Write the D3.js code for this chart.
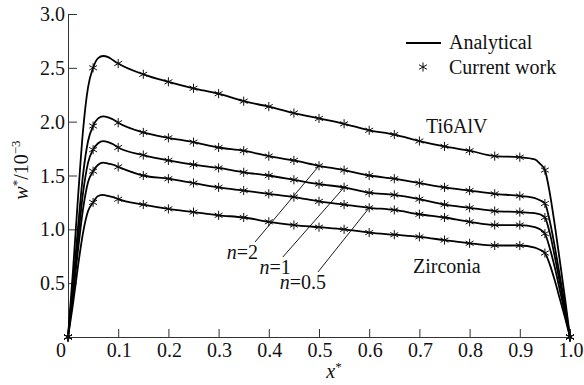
<html>
<head>
<script src="https://d3js.org/d3.v7.min.js"></script>
<style>
body { margin: 0; background: white; }
svg text { font-family: "Liberation Serif", "DejaVu Serif", serif; font-size: 20px; fill: #111; }
</style>
</head>
<body>
<script>
// x positions of the markers (Current work)
var markX = [0,0.05,0.1,0.15,0.2,0.25,0.3,0.35,0.4,0.45,0.5,0.55,0.6,0.65,0.7,0.75,0.8,0.85,0.9,0.95,1.0];

// marker values, one list per material
var tiMarks   = [0,2.50,2.54,2.44,2.37,2.31,2.26,2.19,2.14,2.08,2.03,1.98,1.92,1.88,1.82,1.77,1.73,1.68,1.67,1.55,0];
var n2Marks   = [0,1.96,1.99,1.90,1.85,1.81,1.76,1.73,1.68,1.64,1.59,1.55,1.50,1.47,1.43,1.39,1.36,1.33,1.31,1.24,0];
var n1Marks   = [0,1.74,1.76,1.69,1.64,1.60,1.57,1.53,1.50,1.46,1.42,1.39,1.34,1.32,1.28,1.23,1.20,1.17,1.16,1.11,0];
var n05Marks  = [0,1.54,1.58,1.50,1.47,1.43,1.39,1.36,1.33,1.30,1.26,1.23,1.20,1.18,1.14,1.11,1.07,1.04,1.04,0.96,0];
var zrMarks   = [0,1.25,1.28,1.23,1.19,1.16,1.13,1.11,1.07,1.04,1.02,1.00,0.97,0.95,0.93,0.90,0.87,0.85,0.85,0.78,0];

// x positions of the analytical curve (denser near the edges)
var lineX = [0,0.01,0.02,0.03,0.04,0.05,0.06,0.07,0.08,0.09,
  0.1,0.15,0.2,0.25,0.3,0.35,0.4,0.45,0.5,0.55,0.6,0.65,0.7,0.75,0.8,0.85,0.9,
  0.93,0.94,0.95,0.96,0.97,0.98,0.99,1.0];

var tiLine  = [0,0.62,1.30,1.92,2.32,2.50,2.59,2.61,2.60,2.57, 2.54,2.44,2.37,2.31,2.26,2.19,2.14,2.08,2.03,1.98,1.92,1.88,1.82,1.77,1.73,1.68,1.67, 1.65,1.61,1.55,1.33,1.03,0.70,0.36,0];
var n2Line  = [0,0.49,1.02,1.51,1.82,1.96,2.03,2.05,2.04,2.02, 1.99,1.90,1.85,1.81,1.76,1.73,1.68,1.64,1.59,1.55,1.50,1.47,1.43,1.39,1.36,1.33,1.31, 1.29,1.27,1.24,1.07,0.83,0.56,0.29,0];
var n1Line  = [0,0.43,0.91,1.34,1.62,1.74,1.80,1.82,1.81,1.79, 1.76,1.69,1.64,1.60,1.57,1.53,1.50,1.46,1.42,1.39,1.34,1.32,1.28,1.23,1.20,1.17,1.16, 1.15,1.14,1.11,0.96,0.74,0.50,0.26,0];
var n05Line = [0,0.38,0.81,1.19,1.44,1.54,1.60,1.62,1.61,1.60, 1.58,1.50,1.47,1.43,1.39,1.36,1.33,1.30,1.26,1.23,1.20,1.18,1.14,1.11,1.07,1.04,1.04, 1.02,1.00,0.96,0.82,0.64,0.43,0.22,0];
var zrLine  = [0,0.31,0.66,0.97,1.17,1.25,1.31,1.32,1.31,1.30, 1.28,1.23,1.19,1.16,1.13,1.11,1.07,1.04,1.02,1.00,0.97,0.95,0.93,0.90,0.87,0.85,0.85, 0.83,0.81,0.78,0.67,0.52,0.35,0.18,0];

// tick labels
var xTicks = [0,0.1,0.2,0.3,0.4,0.5,0.6,0.7,0.8,0.9,1.0];
var xTickLabels = ["0","0.1","0.2","0.3","0.4","0.5","0.6","0.7","0.8","0.9","1.0"];
var yTicks = [0.5,1.0,1.5,2.0,2.5,3.0];

// n labels: name, leader start (data units), the x where it touches its curve
var nNames  = ["2","1","0.5"];
var nStart  = [[0.3725,0.882],[0.428,0.743],[0.498,0.604]];
var nTarget = [0.5,0.55,0.6];

var width = 584, height = 385;
var svg = d3.select("body").append("svg")
	.attr("width", width)
	.attr("height", height)
	.attr("font-family", "'Liberation Serif', 'DejaVu Serif', serif");

var x = d3.scaleLinear().domain([0,1]).range([68,570]);
var y = d3.scaleLinear().domain([0,3]).range([337,14]);

// axes, ticks pointing inward
svg.append("g")
	.attr("transform", "translate(0,337)")
	.call(d3.axisBottom(x).tickValues(xTicks).tickSizeInner(-8).tickSizeOuter(0).tickFormat(""));
svg.append("g")
	.attr("transform", "translate(68,0)")
	.call(d3.axisLeft(y).tickValues(yTicks).tickSizeInner(-9).tickSizeOuter(0).tickFormat(""));
svg.selectAll(".domain, .tick line").attr("stroke", "#333").attr("stroke-width", 1);

// tick labels
svg.selectAll(".xlab")
	.data(xTicks)
	.enter()
	.append("text")
	.attr("x", function(d, i) { return x(d) + (i == 0 ? -7 : 1); })
	.attr("y", 357)
	.attr("text-anchor", "middle")
	.text(function(d, i) { return xTickLabels[i]; });

svg.selectAll(".ylab")
	.data(yTicks)
	.enter()
	.append("text")
	.attr("x", 65)
	.attr("y", function(d) { return y(d) + 7; })
	.attr("text-anchor", "end")
	.text(function(d) { return d.toFixed(1); });

// axis titles
var xt = svg.append("text").attr("x", 334).attr("y", 378).attr("text-anchor", "middle");
xt.append("tspan").style("font-style", "italic").text("x");
xt.append("tspan").attr("dy", -7).style("font-size", "13px").text("*");

var yt = svg.append("text")
	.attr("transform", "translate(28,170) rotate(-90)")
	.attr("text-anchor", "middle");
yt.append("tspan").style("font-style", "italic").text("w");
yt.append("tspan").attr("dy", -7).style("font-size", "13px").text("*");
yt.append("tspan").attr("dy", 7).text("/10");
yt.append("tspan").attr("dy", -8).style("font-size", "13px").text("\u22123");

// curves
var lines = [tiLine, n2Line, n1Line, n05Line, zrLine];
var marks = [tiMarks, n2Marks, n1Marks, n05Marks, zrMarks];

var line = d3.line()
	.x(function(d, i) { return x(lineX[i]); })
	.y(function(d) { return y(d); })
	.curve(d3.curveMonotoneX);

svg.append("g").selectAll("path")
	.data(lines)
	.enter()
	.append("path")
	.attr("fill", "none")
	.attr("stroke", "#000")
	.attr("stroke-width", 1.8)
	.attr("d", line);

var star = d3.symbol().type(d3.symbolAsterisk).size(58);

marks.forEach(function(m) {
	svg.append("g").selectAll("path")
		.data(m)
		.enter()
		.append("path")
		.attr("transform", function(d, i) { return "translate(" + x(markX[i]) + "," + y(d) + ")"; })
		.attr("d", star)
		.attr("fill", "none")
		.attr("stroke", "#111")
		.attr("stroke-width", 1);
});

// n= leaders and labels
var nSeries = [n2Line, n1Line, n05Line];
nNames.forEach(function(nm, i) {
	var tx = nTarget[i];
	var ty = nSeries[i][lineX.indexOf(tx)];
	svg.append("line")
		.attr("x1", x(nStart[i][0])).attr("y1", y(nStart[i][1]))
		.attr("x2", x(tx)).attr("y2", y(ty))
		.attr("stroke", "#000")
		.attr("stroke-width", 0.9);
	var t = svg.append("text")
		.attr("x", x(nStart[i][0]) + (i == 0 ? 3 : 8))
		.attr("y", y(nStart[i][1]) + 17)
		.attr("text-anchor", "end");
	t.append("tspan").style("font-style", "italic").text("n");
	t.append("tspan").text("=" + nm);
});

// material names
svg.append("text").attr("x", 426).attr("y", 133).text("Ti6AlV");
svg.append("text").attr("x", 413).attr("y", 273).text("Zirconia");

// legend
svg.append("line")
	.attr("x1", 406).attr("x2", 441)
	.attr("y1", 43).attr("y2", 43)
	.attr("stroke", "#000").attr("stroke-width", 1.8);
svg.append("text").attr("x", 449).attr("y", 49).text("Analytical");
svg.append("path")
	.attr("transform", "translate(423,67)")
	.attr("d", star)
	.attr("fill", "none")
	.attr("stroke", "#111");
svg.append("text").attr("x", 449).attr("y", 74).text("Current work");
</script>
</body>
</html>
